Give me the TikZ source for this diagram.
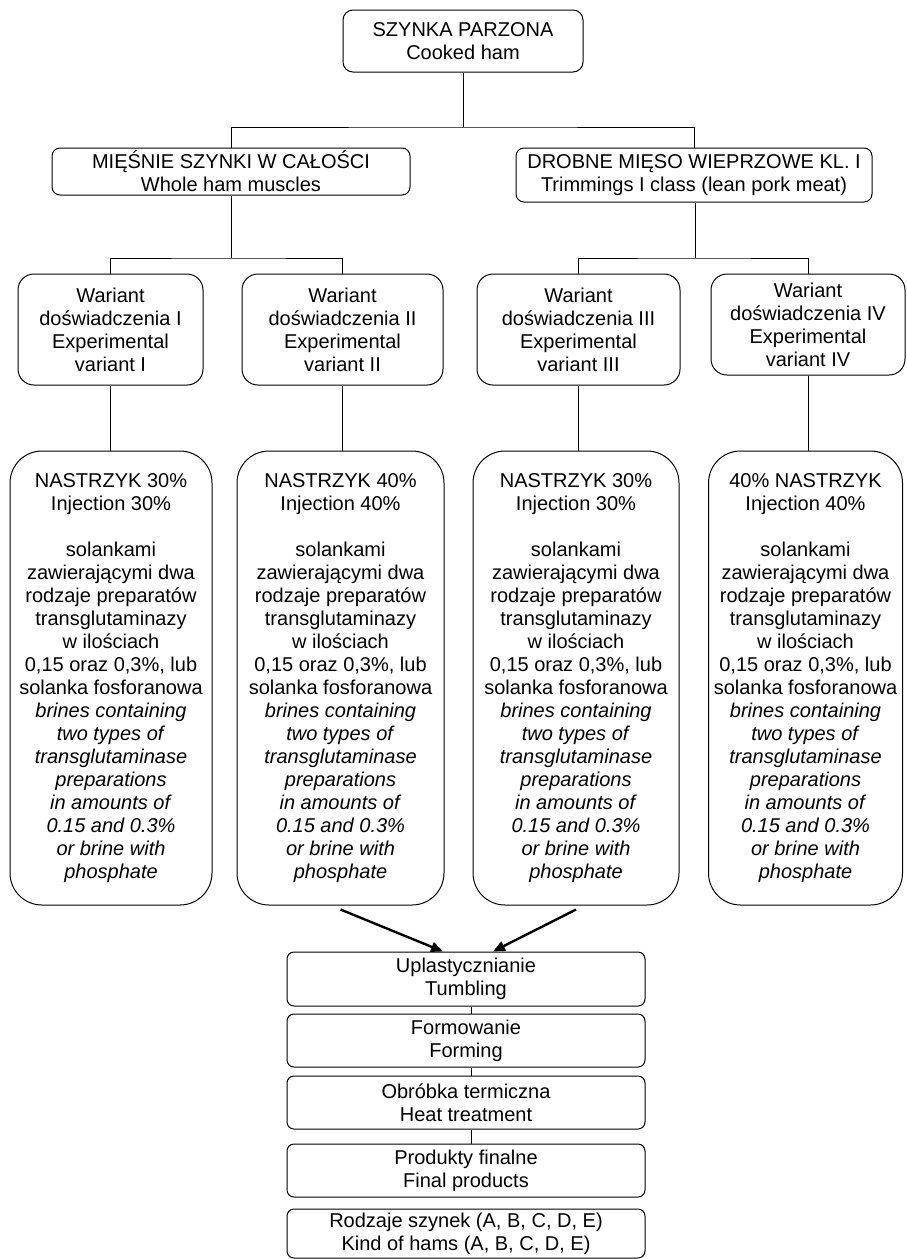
\documentclass[tikz,border=0pt]{standalone}
\usepackage{fontspec}
\setmainfont{Liberation Sans}
\usetikzlibrary{arrows.meta,calc}
\def\Brines{solankami\\zawierającymi dwa\\rodzaje preparatów\\transglutaminazy\\w ilościach\\0,15 oraz 0,3\%, lub\\solanka fosforanowa\\\textit{brines containing}\\\textit{two types of}\\\textit{transglutaminase}\\\textit{preparations}\\\textit{in amounts of}\\\textit{0.15 and 0.3\%}\\\textit{or brine with}\\\textit{phosphate}}

\begin{document}
\begin{tikzpicture}[x=0.5pt,y=-0.5pt,
    box/.style={draw, line width=0.5pt, align=center, inner sep=0pt,
      font=\fontsize{10}{11.5}\selectfont},
    headbox/.style={box, rounded corners=5pt, minimum width=120pt, minimum height=31pt},
    groupbox/.style={box, rounded corners=4pt},
    variantbox/.style={box, rounded corners=8pt, minimum height=55.5pt},
    brinebox/.style={box, rounded corners=16pt, minimum height=227pt},
    stepbox/.style={box, rounded corners=3.5pt, minimum width=179pt, minimum height=26.5pt},
    link/.style={line width=0.5pt},
    flow/.style={line width=1.2pt, -{Triangle[length=6pt,width=5pt]}}]
  \useasboundingbox (0,0) rectangle (906,1259);
  % top of the tree
  \node[headbox] (ham) at (463,41) {SZYNKA PARZONA\\Cooked ham};
  \node[groupbox, minimum width=179pt, minimum height=23.5pt] (whole) at (231,171.5)
    {MIĘŚNIE SZYNKI W CAŁOŚCI\\Whole ham muscles};
  \node[groupbox, minimum width=178pt, minimum height=27pt] (trim) at (694,175)
    {DROBNE MIĘSO WIEPRZOWE KL. I\\Trimmings I class (lean pork meat)};
  \coordinate (split1) at (463,127);
  \coordinate (split2) at (231,258);
  \coordinate (split3) at (695,258);
  \draw[link] (ham) -- (split1);
  \draw[link] (whole.north) |- (split1) -| (trim.north);
  % experimental variants
  \node[variantbox, minimum width=92.5pt] (var1) at (110.5,329.5)
    {Wariant\\doświadczenia I\\Experimental\\variant I};
  \node[variantbox, minimum width=100.5pt] (var2) at (342.5,329.5)
    {Wariant\\doświadczenia II\\Experimental\\variant II};
  \node[variantbox, minimum width=101.5pt] (var3) at (578.5,329.5)
    {Wariant\\doświadczenia III\\Experimental\\variant III};
  \node[variantbox, minimum width=97pt, minimum height=50.5pt] (var4) at (808,324.5)
    {Wariant\\doświadczenia IV\\Experimental\\variant IV};
  \draw[link] (whole) -- (split2);
  \draw[link] (var1.north) |- (split2) -| (var2.north);
  \draw[link] (trim.south -| split3) -- (split3);
  \draw[link] (var3.north) |- (split3) -| (var4.north);
  % injection with brines
  \node[brinebox, minimum width=101pt] (inj1) at (111,678)
    {NASTRZYK 30\%\\Injection 30\%\\[11.5pt]\Brines};
  \node[brinebox, minimum width=103.5pt] (inj2) at (340.5,678)
    {NASTRZYK 40\%\\Injection 40\%\\[11.5pt]\Brines};
  \node[brinebox, minimum width=103pt] (inj3) at (576,678)
    {NASTRZYK 30\%\\Injection 30\%\\[11.5pt]\Brines};
  \node[brinebox, minimum width=97pt] (inj4) at (805.5,678)
    {40\% NASTRZYK\\Injection 40\%\\[11.5pt]\Brines};
  \foreach \i in {1,2,3,4}
    \draw[link] (var\i.south) -- (var\i.south |- inj\i.north);
  % processing steps
  \node[stepbox, minimum height=27pt] (tumble) at (466,979) {Uplastycznianie\\Tumbling};
  \node[stepbox] (form) at (466,1040.5) {Formowanie\\Forming};
  \node[stepbox] (heat) at (466,1102.5) {Obróbka termiczna\\Heat treatment};
  \node[stepbox] (final) at (466,1170.5) {Produkty finalne\\Final products};
  \node[stepbox, minimum height=24.5pt] (kinds) at (466,1233.5)
    {Rodzaje szynek (A, B, C, D, E)\\Kind of hams (A, B, C, D, E)};
  \draw[flow] ([yshift=-2pt]inj2.south) -- ([xshift=-11.5pt]tumble.north);
  \draw[flow] ([yshift=-2pt]inj3.south) -- ([xshift=13.5pt]tumble.north);
  \draw[link] ([xshift=2.5pt]tumble.south) -- ([xshift=2.5pt]form.north);
  \draw[link] ([xshift=2.5pt]form.south) -- ([xshift=2.5pt]heat.north);
  \draw[link] ([xshift=2.5pt]heat.south) -- ([xshift=2.5pt]final.north);
\end{tikzpicture}
\end{document}
